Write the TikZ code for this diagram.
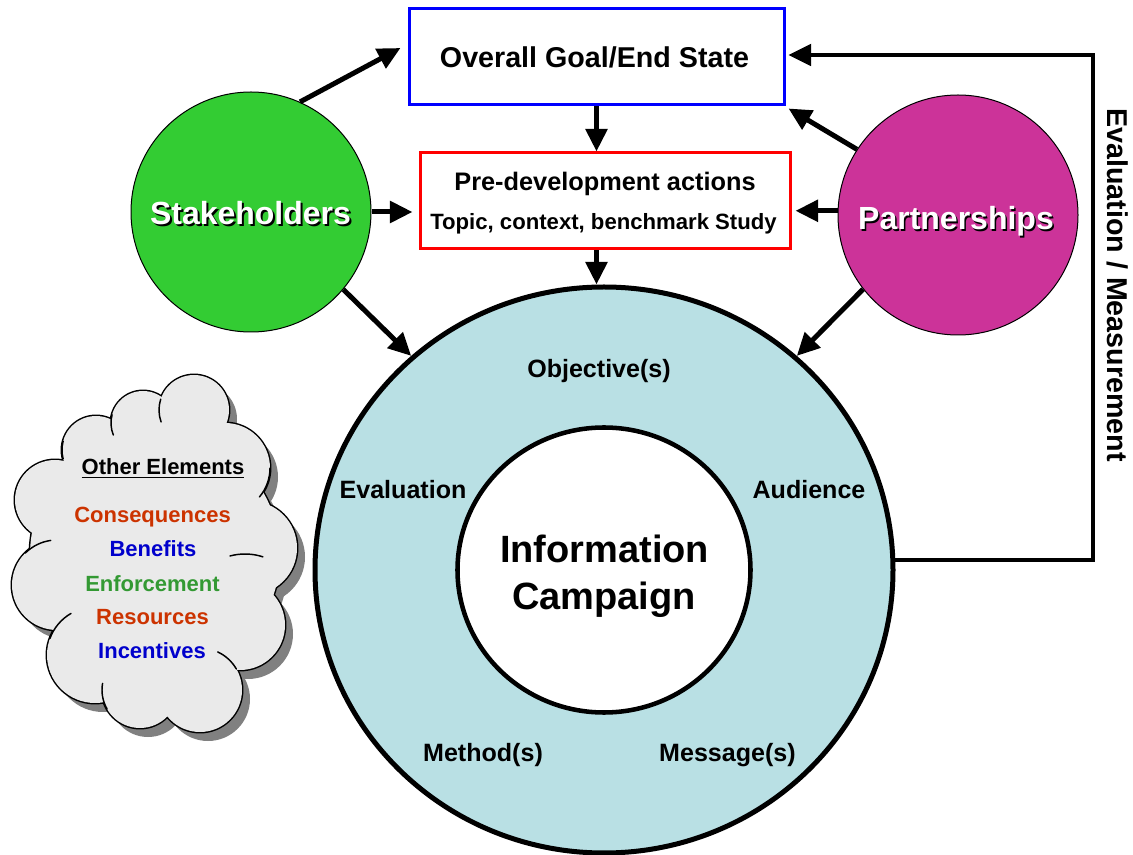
\documentclass[tikz,border=0pt]{standalone}
\usepackage{fontspec}
\setmainfont{Liberation Sans}
\usetikzlibrary{arrows.meta,calc,shapes.geometric}
\definecolor{stkgreen}{RGB}{51,204,51}
\definecolor{prtmag}{RGB}{204,51,153}
\definecolor{ringblue}{RGB}{185,224,228}
\definecolor{cloudgray}{RGB}{234,234,234}
\definecolor{shadowgray}{RGB}{128,128,128}
\definecolor{txtorange}{RGB}{204,51,0}
\definecolor{txtblue}{RGB}{0,0,204}
\definecolor{txtgreen}{RGB}{51,153,51}
\begin{document}
\begin{tikzpicture}[x=0.75pt,y=-0.75pt,
  arr/.style={line width=3.75pt,-{Triangle[length=17pt,width=16pt]}},
  fbarr/.style={line width=3pt,-{Triangle[length=17pt,width=16pt]}},
  lbl/.style={inner sep=0pt,anchor=base,font=\bfseries\fontsize{18.8}{22}\selectfont},
  cloudlbl/.style={inner sep=0pt,anchor=base,font=\bfseries\fontsize{16.5}{20}\selectfont},
  bubble/.style={circle,draw=black,line width=0.75pt,minimum size=180pt,inner sep=0pt},
  bubtxt/.style={inner sep=0pt,anchor=base,font=\bfseries\fontsize{24}{28}\selectfont},
  tail/.style={line width=1.1pt,line cap=round}]
\useasboundingbox (0,0) rectangle (1133,855);
\fill[white] (0,0) rectangle (1133,855);

% ---------- cloud ----------
\def\puffs{194/410/35, 143/423/32, 96/450/34, 55/500/40, 57/585/45, 95/655/48,
  140/690/38, 200/690/42, 240/625/45, 250/548/47, 225/468/45, 155/555/125}
\begin{scope}[shift={(8,9)}]
  \foreach \cx/\cy/\r in \puffs { \fill[shadowgray] (\cx,\cy) circle[radius=\r]; }
\end{scope}
\foreach \cx/\cy/\r in \puffs { \draw[line width=2.2pt] (\cx,\cy) circle[radius=\r]; }
\foreach \cx/\cy/\r in \puffs { \fill[cloudgray] (\cx,\cy) circle[radius=\r]; }
% small inner strokes where puffs meet
\foreach \cx/\cy/\r/\a/\b in {194/410/35/160/198, 143/423/32/158/195, 96/450/34/165/195,
  225/468/45/0/40, 245/612/58/255/288, 200/690/42/295/330, 140/690/38/150/190,
  95/655/48/200/240, 57/585/45/225/262}
  { \draw[tail] (\cx,\cy) ++(\a:\r) arc[start angle=\a,end angle=\b,radius=\r]; }
\node[cloudlbl] (oth) at (163,475) {\underline{Other Elements}};
\node[cloudlbl,text=txtorange] (cons) at (152.5,523) {Consequences};
\node[cloudlbl,text=txtblue] (bene) at (153,557) {Benefits};
\node[cloudlbl,text=txtgreen] (enfo) at (152.5,592) {Enforcement};
\node[cloudlbl,text=txtorange] (reso) at (152.5,625) {Resources};
\node[cloudlbl,text=txtblue] (ince) at (152,658) {Incentives};

% ---------- boxes ----------
\node[draw=blue,line width=2.25pt,minimum width=281.25pt,minimum height=72pt,inner sep=0pt] (goal) at (596.5,57) {};
\node[inner sep=0pt,anchor=base,font=\bfseries\fontsize{21.5}{25}\selectfont] (goaltxt) at (594.5,68) {Overall Goal/End State};
\node[draw=red,line width=2.25pt,minimum width=277.5pt,minimum height=72pt,inner sep=0pt] (pre) at (605,201) {};
\node[inner sep=0pt,anchor=base,font=\bfseries\fontsize{19}{22}\selectfont] (pretxt) at (605,191) {Pre-development actions};
\node[inner sep=0pt,anchor=base,font=\bfseries\fontsize{16.6}{20}\selectfont] (toptxt) at (603.5,230) {Topic, context, benchmark Study};

% ---------- bubbles ----------
\node[bubble,fill=stkgreen] (stake) at (251,212) {};
\node[bubtxt,text=black] (stakesh) at (252.5,227) {Stakeholders};
\node[bubtxt,text=white] (staketxt) at (250.5,225) {Stakeholders};
\node[bubble,fill=prtmag] (part) at (958,215) {};
\node[bubtxt,text=black] (partsh) at (957.5,232) {Partnerships};
\node[bubtxt,text=white] (parttxt) at (956,230) {Partnerships};

% ---------- ring ----------
\node[ellipse,draw=black,line width=3.75pt,fill=ringblue,minimum width=433.5pt,minimum height=424.5pt,inner sep=0pt] (ring) at (604,570) {};
\node[ellipse,draw=black,line width=3.4pt,fill=white,minimum width=219.75pt,minimum height=213.75pt,inner sep=0pt] (core) at (604,570) {};
\node[inner sep=0pt,anchor=base,font=\bfseries\fontsize{28.5}{34}\selectfont] (info1) at (604.5,563) {Information};
\node[inner sep=0pt,anchor=base,font=\bfseries\fontsize{28.5}{34}\selectfont] (info2) at (604,610) {Campaign};
\node[lbl] (obj) at (599,378) {Objective(s)};
\node[lbl] (eval) at (403,499) {Evaluation};
\node[lbl] (aud) at (809,499) {Audience};
\node[lbl] (meth) at (483,762) {Method(s)};
\node[lbl] (mess) at (727.5,762) {Message(s)};

% ---------- connectors ----------
\draw[arr] (stake.66) -- ($(goal.west)+(-7,-9)$);
\draw[arr] (goal.south) -- (goal.south |- pre.north);
\draw[arr,shorten >=4.5pt] (stake.east) -- (stake.east -| pre.west);
\draw[arr] (goal.south |- pre.south) -- (goal.south |- ring.north);
\draw[arr] (stake.-40) -- (ring.132);
\draw[arr] (part.218) -- (ring.48);
\draw[arr,shorten >=3pt] (part.178) -- (part.178 -| pre.east);
\draw[arr] (part.147) -- ($(goal.south east)+(3,2)$);
\coordinate (fbc) at (1093,55);
\draw[fbarr] (ring.2) -| (fbc) -- ($(goal.east)+(3,-2)$);
\node[inner sep=0pt,rotate=-90,font=\bfseries\fontsize{21.5}{25}\selectfont] (evm) at (1118,285) {Evaluation / Measurement};
\end{tikzpicture}
\end{document}
